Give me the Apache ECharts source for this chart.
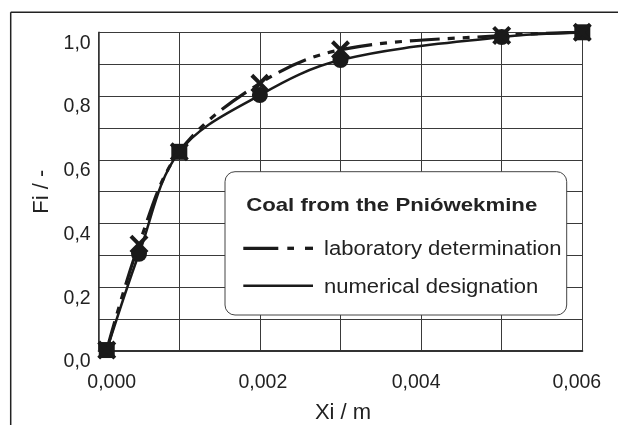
<!DOCTYPE html>
<html>
<head>
<meta charset="utf-8">
<script src="https://cdn.jsdelivr.net/npm/echarts@6/dist/echarts.min.js"></script>
<style>
html,body{margin:0;padding:0;background:#fff;}
#chart{width:618px;height:425px;}
</style>
</head>
<body>
<div id="chart"></div>
<script>
// ---- data ----
const xValues = [0.0001, 0.0005, 0.001, 0.002, 0.003, 0.005, 0.006];
const labValues = [0.003, 0.335, 0.625, 0.84, 0.945, 0.99, 1.0];
const numValues = [0.003, 0.305, 0.625, 0.803, 0.913, 0.985, 1.0];
const xTickLabels = ['0,000', '0,002', '0,004', '0,006'];
const yTickLabels = ['0,0', '0,2', '0,4', '0,6', '0,8', '1,0'];
const legendTitle = 'Coal from the Pniówekmine';
const seriesNames = ['laboratory determination', 'numerical designation'];
const xAxisName = 'Xi / m';
const yAxisName = 'Fi / -';

const FONT = '"Liberation Sans", Arial, sans-serif';
const INK = '#222';
const crossPath = 'path://M0,3 L3,0 L10,7 L17,0 L20,3 L13,10 L20,17 L17,20 L10,13 L3,20 L0,17 L7,10 Z';
const squareIdx = [0, 2, 6];

const chart = echarts.init(document.getElementById('chart'), null, {renderer: 'canvas'});

const xRich = {
  a0: {fontSize: 19.5, fontFamily: FONT, color: INK, padding: [0, 0, 0, 26]},
  a1: {fontSize: 19.5, fontFamily: FONT, color: INK, padding: [0, 0, 0, 6]},
  a2: {fontSize: 19.5, fontFamily: FONT, color: INK, padding: [0, 10, 0, 0]},
  a3: {fontSize: 19.5, fontFamily: FONT, color: INK, padding: [0, 11, 0, 0]}
};

const option = {
  backgroundColor: '#fff',
  animation: false,
  grid: {left: 98.7, right: 35.7, top: 32.3, bottom: 74, containLabel: false, outerBoundsMode: 'none'},
  xAxis: {
    type: 'value', min: 0, max: 0.006, interval: 0.002,
    name: xAxisName, nameLocation: 'middle', nameGap: 51,
    nameTextStyle: {fontSize: 22, fontFamily: FONT, color: INK, padding: [0, 0, 0, 5]},
    axisLine: {show: true, lineStyle: {color: '#333', width: 2}},
    axisTick: {show: false},
    axisLabel: {
      margin: 22,
      formatter: function (v) {
        const i = Math.round(v / 0.002);
        return '{a' + i + '|' + xTickLabels[i] + '}';
      },
      rich: xRich
    },
    splitLine: {show: true, lineStyle: {color: '#3a3a3a', width: 1}},
    minorTick: {show: false, splitNumber: 2},
    minorSplitLine: {show: true, lineStyle: {color: '#3a3a3a', width: 1}}
  },
  yAxis: {
    type: 'value', min: 0, max: 1, interval: 0.2,
    name: yAxisName, nameLocation: 'middle', nameGap: 44, nameRotate: 90,
    nameTextStyle: {fontSize: 22, fontFamily: FONT, color: INK},
    axisLine: {show: true, lineStyle: {color: '#333', width: 1.5}},
    axisTick: {show: false},
    axisLabel: {
      margin: 8, fontSize: 19.5, fontFamily: FONT, color: INK,
      verticalAlign: 'top', lineHeight: 22,
      formatter: function (v) { return yTickLabels[Math.round(v / 0.2)]; }
    },
    splitLine: {show: true, lineStyle: {color: '#3a3a3a', width: 1}},
    minorTick: {show: false, splitNumber: 2},
    minorSplitLine: {show: true, lineStyle: {color: '#3a3a3a', width: 1}}
  },
  series: [
    {
      name: seriesNames[1], type: 'line',
      data: xValues.map((x, i) => [x, numValues[i]]),
      smooth: 0.35,
      symbol: function (val, p) { return squareIdx.indexOf(p.dataIndex) >= 0 ? 'rect' : 'circle'; },
      symbolSize: 16,
      lineStyle: {color: '#1a1a1a', width: 2.5, type: 'solid'},
      itemStyle: {color: '#1a1a1a'},
      z: 3
    },
    {
      name: seriesNames[0], type: 'line',
      data: xValues.map((x, i) => [x, labValues[i]]),
      smooth: 0.35,
      symbol: crossPath, symbolSize: 19,
      lineStyle: {color: '#1a1a1a', width: 3.2, type: [30, 8, 7, 8, 7, 8]},
      itemStyle: {color: '#1a1a1a'},
      z: 4
    }
  ],
  graphic: [
    // outer frame (top and left edges)
    {type: 'line', shape: {x1: 10.7, y1: 12.3, x2: 618, y2: 12.3}, style: {stroke: '#222', lineWidth: 1.5}},
    {type: 'line', shape: {x1: 10.7, y1: 12.3, x2: 10.7, y2: 425}, style: {stroke: '#222', lineWidth: 1.5}},
    // legend box
    {type: 'rect', shape: {x: 225, y: 171.7, width: 341.7, height: 143.3, r: 10},
      style: {fill: '#fff', stroke: '#444', lineWidth: 1}, z: 100},
    {type: 'text', x: 391.7, y: 206, scaleX: 1.2, z: 101,
      style: {text: legendTitle, font: 'bold 18.5px ' + FONT, fill: INK, align: 'center', verticalAlign: 'middle'}},
    {type: 'line', shape: {x1: 243.3, y1: 248.3, x2: 278.3, y2: 248.3}, style: {stroke: '#1a1a1a', lineWidth: 3.3}, z: 101},
    {type: 'line', shape: {x1: 287.3, y1: 248.3, x2: 294, y2: 248.3}, style: {stroke: '#1a1a1a', lineWidth: 3.3}, z: 101},
    {type: 'line', shape: {x1: 305, y1: 248.3, x2: 313, y2: 248.3}, style: {stroke: '#1a1a1a', lineWidth: 3.3}, z: 101},
    {type: 'text', x: 324, y: 250, scaleX: 1.13, z: 101,
      style: {text: seriesNames[0], font: '19.5px ' + FONT, fill: INK, align: 'left', verticalAlign: 'middle'}},
    {type: 'line', shape: {x1: 243.3, y1: 285.7, x2: 313, y2: 285.7}, style: {stroke: '#1a1a1a', lineWidth: 2.6}, z: 101},
    {type: 'text', x: 324, y: 288, scaleX: 1.13, z: 101,
      style: {text: seriesNames[1], font: '19.5px ' + FONT, fill: INK, align: 'left', verticalAlign: 'middle'}}
  ]
};
chart.setOption(option);
</script>
</body>
</html>
